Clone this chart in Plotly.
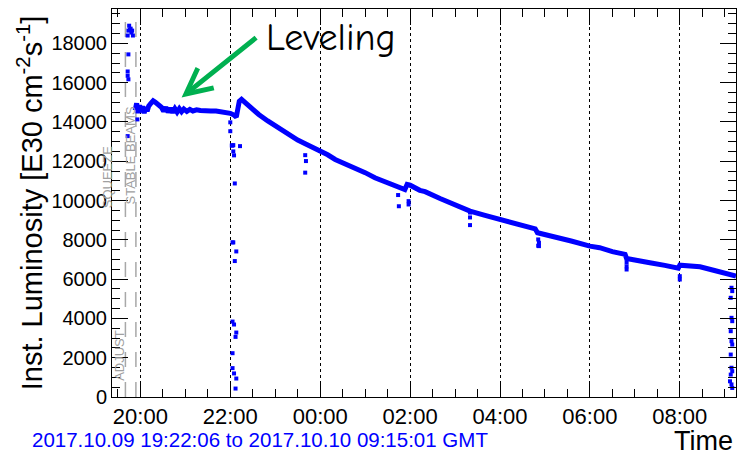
import plotly.graph_objects as go

# Fill luminosity trace (continuous part), 2017-10-09 19:53 -> 2017-10-10 09:15
fill_time = [
    "2017-10-09 19:53", "2017-10-09 19:55", "2017-10-09 19:57", "2017-10-09 19:59",
    "2017-10-09 20:01", "2017-10-09 20:03", "2017-10-09 20:05", "2017-10-09 20:07",
    "2017-10-09 20:09", "2017-10-09 20:11", "2017-10-09 20:14", "2017-10-09 20:17",
    "2017-10-09 20:20", "2017-10-09 20:24", "2017-10-09 20:28", "2017-10-09 20:31",
    "2017-10-09 20:34", "2017-10-09 20:37", "2017-10-09 20:40", "2017-10-09 20:43",
    "2017-10-09 20:46", "2017-10-09 20:49", "2017-10-09 20:52", "2017-10-09 20:55",
    "2017-10-09 20:58", "2017-10-09 21:02", "2017-10-09 21:06", "2017-10-09 21:10",
    "2017-10-09 21:15", "2017-10-09 21:20", "2017-10-09 21:27", "2017-10-09 21:34",
    "2017-10-09 21:41", "2017-10-09 21:48", "2017-10-09 21:55", "2017-10-09 22:00",
    "2017-10-09 22:05", "2017-10-09 22:08", "2017-10-09 22:09", "2017-10-09 22:10",
    "2017-10-09 22:12", "2017-10-09 22:15", "2017-10-09 22:20", "2017-10-09 22:30",
    "2017-10-09 22:38", "2017-10-09 22:50", "2017-10-09 23:00", "2017-10-09 23:10",
    "2017-10-09 23:22", "2017-10-09 23:30", "2017-10-09 23:40", "2017-10-09 23:50",
    "2017-10-10 00:02", "2017-10-10 00:10", "2017-10-10 00:20", "2017-10-10 00:35",
    "2017-10-10 00:51", "2017-10-10 01:00", "2017-10-10 01:13", "2017-10-10 01:30",
    "2017-10-10 01:44", "2017-10-10 01:53", "2017-10-10 01:56", "2017-10-10 02:00",
    "2017-10-10 02:13", "2017-10-10 02:20", "2017-10-10 02:40", "2017-10-10 02:58",
    "2017-10-10 03:20", "2017-10-10 03:40", "2017-10-10 04:00", "2017-10-10 04:20",
    "2017-10-10 04:44", "2017-10-10 04:47", "2017-10-10 04:50", "2017-10-10 05:11",
    "2017-10-10 05:35", "2017-10-10 06:00", "2017-10-10 06:13", "2017-10-10 06:30",
    "2017-10-10 06:47", "2017-10-10 06:49", "2017-10-10 07:00", "2017-10-10 07:20",
    "2017-10-10 07:40", "2017-10-10 07:56", "2017-10-10 07:58", "2017-10-10 08:00",
    "2017-10-10 08:15", "2017-10-10 08:27", "2017-10-10 08:45", "2017-10-10 09:00",
    "2017-10-10 09:13", "2017-10-10 09:15",
]
fill_lumi = [
    14600, 14950, 14450, 14850,
    14500, 14800, 14450, 14750,
    14550, 14800, 14950, 15080,
    15000, 14900, 14750, 14550,
    14750, 14500, 14700, 14480,
    14680, 14500, 14680, 14520,
    14660, 14540, 14640, 14560,
    14620, 14580, 14600, 14560,
    14560, 14530, 14500, 14440,
    14350, 14250, 14450, 14800,
    15050, 15150, 14980, 14680,
    14380, 14050, 13790, 13530,
    13280, 13080, 12890, 12700,
    12520, 12330, 12090, 11850,
    11580, 11420, 11160, 10930,
    10730, 10560, 10820, 10780,
    10520, 10450, 10100, 9800,
    9460, 9240, 9040, 8850,
    8620, 8560, 8360, 8190,
    7940, 7680, 7600, 7400,
    7260, 7050, 6950, 6830,
    6700, 6580, 6560, 6710,
    6680, 6630, 6450, 6330,
    6190, 6160,
]

# Isolated readings: injection, beam dump, short dips and the final dump
point_time = [
    "2017-10-09 19:43", "2017-10-09 19:44", "2017-10-09 19:45", "2017-10-09 19:46",
    "2017-10-09 19:47", "2017-10-09 19:48", "2017-10-09 19:49", "2017-10-09 19:50",
    "2017-10-09 19:44", "2017-10-09 19:43", "2017-10-09 19:43", "2017-10-09 19:44",
    "2017-10-09 19:43", "2017-10-09 19:56",
    "2017-10-09 22:00", "2017-10-09 22:00", "2017-10-09 22:02", "2017-10-09 22:03",
    "2017-10-09 22:04", "2017-10-09 22:13", "2017-10-09 22:04", "2017-10-09 22:05",
    "2017-10-09 22:06", "2017-10-09 22:03", "2017-10-09 22:04", "2017-10-09 22:08",
    "2017-10-09 22:06", "2017-10-09 22:03", "2017-10-09 22:05", "2017-10-09 22:08",
    "2017-10-09 22:07", "2017-10-09 22:03", "2017-10-09 22:03", "2017-10-09 22:05",
    "2017-10-09 22:08", "2017-10-09 22:07",
    "2017-10-09 23:40", "2017-10-09 23:41", "2017-10-09 23:40",
    "2017-10-10 01:44", "2017-10-10 01:45", "2017-10-10 01:58", "2017-10-10 01:58",
    "2017-10-10 03:20", "2017-10-10 03:20", "2017-10-10 03:20",
    "2017-10-10 04:51", "2017-10-10 04:52", "2017-10-10 04:52", "2017-10-10 04:51",
    "2017-10-10 06:49", "2017-10-10 06:49", "2017-10-10 06:49",
    "2017-10-10 08:00", "2017-10-10 08:00",
    "2017-10-10 09:09", "2017-10-10 09:10", "2017-10-10 09:08", "2017-10-10 09:09",
    "2017-10-10 09:10", "2017-10-10 09:08", "2017-10-10 09:09", "2017-10-10 09:10",
    "2017-10-10 09:08", "2017-10-10 09:09", "2017-10-10 09:10", "2017-10-10 09:08",
    "2017-10-10 09:07", "2017-10-10 09:09", "2017-10-10 09:10",
]
point_lumi = [
    18400, 18650, 18900, 18700,
    18750, 18550, 18650, 18400,
    17440, 16570, 16350, 16170,
    13280, 14130,
    13980, 13530, 12800, 12800,
    12820, 12770, 12500, 12300,
    10870, 7870, 7870, 7410,
    6920, 3840, 3690, 3280,
    3060, 2230, 1470, 1200,
    940, 430,
    12310, 12010, 11420,
    10280, 9710, 9970, 9800,
    9390, 9140, 8750,
    8020, 7850, 7680, 7700,
    6850, 6650, 6490,
    6150, 5980,
    5560, 5390, 5050, 4030,
    3860, 3350, 2840, 2670,
    2160, 1490, 1310, 1140,
    800, 640, 460,
]

# Beam-mode boundaries and their labels (SQUEEZE sits just left of the frame)
mode_time = ["2017-10-09 19:40", "2017-10-09 19:54"]
mode_label = ["ADJUST", "SQUEEZE", "STABLE BEAMS"]
mode_label_xpaper = [0.013, -0.006, 0.029]
mode_label_lumi = [2100, 11200, 12300]

x_range = ["2017-10-09 19:22:06", "2017-10-10 09:15:01"]
y_range = [0, 19750]

BLUE = "#0000ff"
FONT = "Liberation Sans, Arial, Helvetica, sans-serif"

fig = go.Figure()

fig.add_trace(go.Scatter(
    x=fill_time, y=fill_lumi, mode="lines",
    line=dict(color=BLUE, width=5), hoverinfo="skip", showlegend=False,
))
fig.add_trace(go.Scatter(
    x=point_time, y=point_lumi, mode="markers",
    marker=dict(symbol="square", size=4, color=BLUE, line=dict(width=0)),
    hoverinfo="skip", showlegend=False,
))

for t in mode_time:
    fig.add_shape(type="line", xref="x", yref="paper", x0=t, x1=t, y0=0, y1=1,
                  line=dict(color="#a8a8a8", width=1.5, dash="longdash"), layer="below")

for label, xp, v in zip(mode_label, mode_label_xpaper, mode_label_lumi):
    fig.add_annotation(x=xp, y=v, xref="paper", yref="y", xanchor="center", yanchor="middle",
                       text=label, textangle=-90, showarrow=False,
                       font=dict(family=FONT, size=13, color="#a0a0a0"))

# "Leveling" call-out with green arrow
fig.add_annotation(x="2017-10-09 20:55", y=15250, xref="x", yref="y", text="",
                   showarrow=True, ax=76, ay=-61, arrowhead=5, arrowsize=1.0,
                   arrowwidth=5, arrowcolor="#00b050", standoff=0)
fig.add_annotation(x="2017-10-10 00:14", y=18250, xref="x", yref="y", text="Leveling",
                   showarrow=False,
                   font=dict(family="Comic Sans MS, Comic Neue, Noto Sans, sans-serif",
                             size=38, color="black"))

# Period and axis caption under the frame
fig.add_annotation(xref="paper", yref="paper", x=-0.131, y=-0.11, xanchor="left", yanchor="middle",
                   text="2017.10.09 19:22:06 to 2017.10.10 09:15:01 GMT", showarrow=False,
                   font=dict(family=FONT, size=20.5, color=BLUE))
fig.add_annotation(xref="paper", yref="paper", x=0.999, y=-0.113, xanchor="right", yanchor="middle",
                   text="Time", showarrow=False, font=dict(family=FONT, size=27, color="black"))

fig.update_layout(
    width=737, height=457,
    margin=dict(l=112, r=1, t=9, b=60),
    paper_bgcolor="white", plot_bgcolor="white",
    font=dict(family=FONT, color="black"),
    xaxis=dict(
        type="date", range=x_range,
        tick0="2017-10-09 20:00", dtick=7200000, tickformat="%H:%M",
        ticks="inside", ticklen=16, tickcolor="black", tickwidth=1,
        tickfont=dict(family=FONT, size=22, color="black"),
        showline=True, linecolor="black", linewidth=1, mirror="ticks",
        showgrid=True, gridcolor="black", griddash="dot", gridwidth=1,
        minor=dict(dtick=1800000, ticks="inside", ticklen=8, tickcolor="black", showgrid=False),
        zeroline=False,
    ),
    yaxis=dict(
        range=y_range, tick0=0, dtick=2000, tickformat="d",
        ticks="inside", ticklen=16, tickcolor="black", tickwidth=1,
        tickfont=dict(family=FONT, size=20, color="black"),
        showline=True, linecolor="black", linewidth=1, mirror="ticks",
        showgrid=False, zeroline=False,
        minor=dict(dtick=500, ticks="inside", ticklen=8, tickcolor="black", showgrid=False),
        title=dict(text="Inst. Luminosity [E30 cm<sup>-2</sup>s<sup>-1</sup>]",
                   font=dict(family=FONT, size=29, color="black"), standoff=0),
    ),
)

fig.write_html("out.html")
